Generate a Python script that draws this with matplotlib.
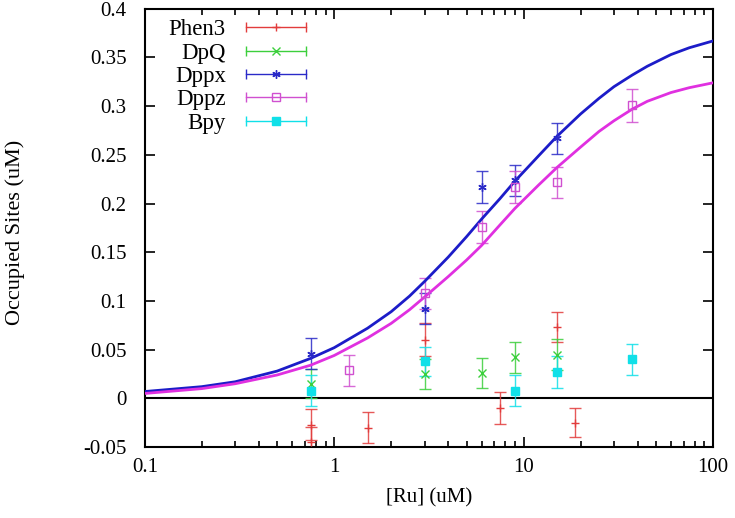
import numpy as np
import matplotlib
matplotlib.use("Agg")
import matplotlib.pyplot as plt
from matplotlib.lines import Line2D
from matplotlib.legend_handler import HandlerBase
from matplotlib.ticker import FixedLocator, FuncFormatter, LogLocator, NullFormatter

# data points
phen3_x = [0.75, 0.75, 1.5, 3, 7.5, 15, 18.75]
phen3_y = [-0.027, -0.045, -0.030, 0.060, -0.010, 0.073, -0.025]
phen3_err = [0.016, 0.016, 0.016, 0.017, 0.016, 0.0155, 0.015]

dpq_x = [0.75, 3, 6, 9, 15]
dpq_y = [0.015, 0.025, 0.026, 0.042, 0.045]
dpq_err = [0.015, 0.015, 0.0155, 0.016, 0.016]

dppx_x = [0.75, 3, 6, 9, 15]
dppx_y = [0.046, 0.092, 0.217, 0.224, 0.267]
dppx_err = [0.016, 0.016, 0.016, 0.016, 0.016]

dppz_x = [1.2, 3, 6, 9, 15, 37.5]
dppz_y = [0.029, 0.108, 0.176, 0.217, 0.222, 0.301]
dppz_err = [0.016, 0.016, 0.016, 0.016, 0.016, 0.017]

bpy_x = [0.75, 3, 9, 15, 37.5]
bpy_y = [0.008, 0.038, 0.008, 0.027, 0.040]
bpy_err = [0.016, 0.015, 0.016, 0.016, 0.016]

# fitted curves
curve_x = [0.1, 0.2, 0.3, 0.5, 0.75, 1, 1.5, 2, 2.5, 3, 4, 5, 6, 7.5, 9,
           12, 15, 20, 25, 30, 37.5, 45, 60, 75, 100]
dppx_fit = [0.007, 0.012, 0.017, 0.028, 0.041, 0.052, 0.072, 0.089, 0.105,
            0.120, 0.145, 0.166, 0.184, 0.205, 0.223, 0.249, 0.269, 0.292,
            0.308, 0.320, 0.332, 0.341, 0.353, 0.360, 0.367]
dppz_fit = [0.005, 0.010, 0.015, 0.024, 0.034, 0.044, 0.062, 0.077, 0.091,
            0.104, 0.125, 0.142, 0.157, 0.178, 0.195, 0.219, 0.237, 0.258,
            0.274, 0.285, 0.297, 0.305, 0.314, 0.319, 0.324]

series = [
    ("Phen3", phen3_x, phen3_y, phen3_err, "#e23c3c", "+", "#e23c3c"),
    ("DpQ", dpq_x, dpq_y, dpq_err, "#3ccf3c", "x", "#3ccf3c"),
    ("Dppx", dppx_x, dppx_y, dppx_err, "#2a2ac8", (6, 2, 0), "#2a2ac8"),
    ("Dppz", dppz_x, dppz_y, dppz_err, "#d050d0", "s", "none"),
    ("Bpy", bpy_x, bpy_y, bpy_err, "#10e0e8", "s", "#10e0e8"),
]

plt.rcParams["font.family"] = ["Liberation Serif", "DejaVu Serif"]
plt.rcParams["font.size"] = 12


class HandlerGnu(HandlerBase):
    def create_artists(self, legend, orig_handle, xdescent, ydescent,
                       width, height, fontsize, trans):
        c = orig_handle.get_color()
        y = height / 2 - ydescent
        x0, x1 = -xdescent, width - xdescent
        line = Line2D([x0, x1], [y, y], color=c, lw=1.0)
        caps = Line2D([x0, x1], [y, y], ls="none", marker="|", ms=7,
                      mew=1.0, color=c)
        mk = Line2D([(x0 + x1) / 2], [y], ls="none",
                    marker=orig_handle.get_marker(),
                    ms=orig_handle.get_markersize(),
                    mfc=orig_handle.get_markerfacecolor(), mec=c, mew=1.0)
        for a in (line, caps, mk):
            a.set_transform(trans)
        return [line, caps, mk]


fig = plt.figure(figsize=(7.35, 5.18), dpi=100)
ax = fig.add_axes([0.197, 0.137, 0.773, 0.846])

ax.axhline(0, color="black", lw=1.5, zorder=1)

ax.plot(curve_x, dppx_fit, color="#1c1cc8", lw=2.0, zorder=3)
ax.plot(curve_x, dppz_fit, color="#e030e0", lw=2.0, zorder=3)

handles = []
for name, xs, ys, es, col, mk, fc in series:
    ax.errorbar(xs, ys, yerr=es, fmt="none", ecolor=col, elinewidth=1.0,
                capsize=4, capthick=1.0, alpha=0.85, zorder=2)
    ax.plot(xs, ys, ls="none", marker=mk, color=col, mfc=fc, mec=col,
            ms=6, mew=1.0, zorder=4)
    handles.append(Line2D([], [], color=col, marker=mk, mfc=fc, ms=6,
                          label=name))

ax.set_xscale("log")
ax.set_xlim(0.1, 100)
ax.set_ylim(-0.05, 0.4)
ax.xaxis.set_major_locator(FixedLocator([0.1, 1, 10, 100]))
ax.xaxis.set_minor_locator(LogLocator(base=10, subs=np.arange(2, 10)))
ax.xaxis.set_minor_formatter(NullFormatter())
ax.xaxis.set_major_formatter(FuncFormatter(lambda v, p: f"{v:g}"))
ax.yaxis.set_major_locator(FixedLocator(np.arange(-0.05, 0.401, 0.05)))
ax.yaxis.set_major_formatter(FuncFormatter(lambda v, p: f"{round(v, 2):g}"))

ax.tick_params(which="both", direction="in", top=True, right=True,
               labelsize=15, width=1.2)
ax.tick_params(which="major", length=7)
ax.tick_params(axis="x", which="major", pad=8)
ax.tick_params(axis="y", which="major", pad=13)
ax.tick_params(which="minor", length=4)
for sp in ax.spines.values():
    sp.set_linewidth(1.5)

ax.set_xlabel("[Ru] (uM)", fontsize=15, labelpad=8)
ax.set_ylabel("Occupied Sites (uM)", fontsize=16)
ax.yaxis.set_label_coords(-0.21, 0.49)

leg = ax.legend(handles=handles, loc="upper left", frameon=False,
                markerfirst=False, handler_map={Line2D: HandlerGnu()},
                handlelength=2.6, fontsize=16.5, labelspacing=0.1,
                handletextpad=0.9, borderaxespad=0.0,
                bbox_to_anchor=(0.026, 0.997))
for t in leg.get_texts():
    t.set_ha("right")

fig.savefig("out.png", dpi=100)
